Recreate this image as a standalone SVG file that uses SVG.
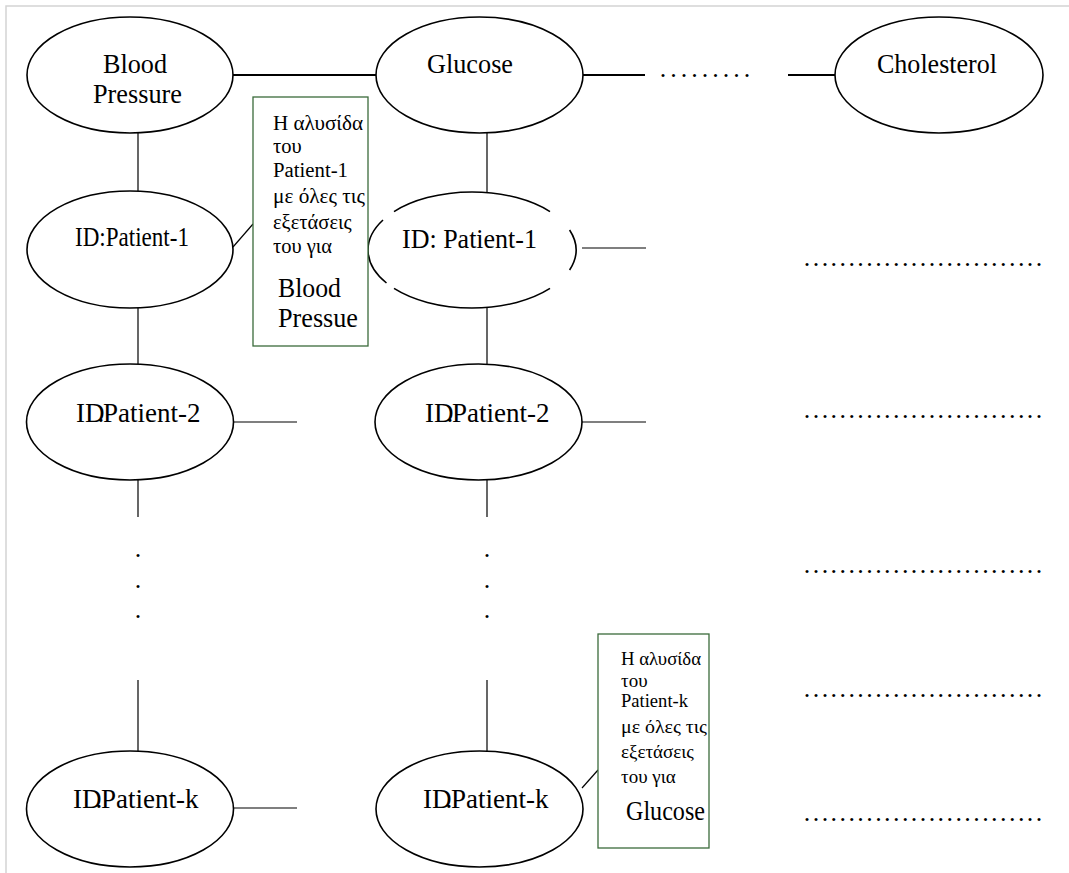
<svg xmlns="http://www.w3.org/2000/svg" width="1069" height="873" viewBox="0 0 1069 873">
  <style>
    .node { fill: #ffffff; stroke: #000000; stroke-width: 1.6; }
    .arc { fill: none; stroke: #000000; stroke-width: 1.6; }
    .link { stroke: #000000; stroke-width: 1.2; fill: none; }
    .hlink { stroke: #000000; stroke-width: 1.8; fill: none; }
    .note { fill: #ffffff; stroke: #3b6b3b; stroke-width: 1.3; }
    .lbl { font-family: "Liberation Serif", "Times New Roman", serif; font-size: 27px; fill: #000000; }
    .small { font-family: "Liberation Serif", "Times New Roman", serif; font-size: 20.5px; fill: #000000; }
    .small2 { font-family: "Liberation Serif", "Times New Roman", serif; font-size: 19px; fill: #000000; }
    .dots { font-family: "Liberation Serif", "Times New Roman", serif; font-size: 26px; fill: #000000; }
  </style>

  <!-- page frame -->
  <path d="M6,873 V6 H1069" fill="none" stroke="#d4d4d4" stroke-width="1.5"/>

  <!-- connectors -->
  <g id="connectors">
    <line class="hlink" x1="233" y1="75" x2="376" y2="75"/>
    <line class="hlink" x1="583" y1="75" x2="645" y2="75"/>
    <line class="hlink" x1="788" y1="75" x2="835" y2="75"/>
    <!-- column 1 verticals -->
    <line class="link" x1="138" y1="133" x2="138" y2="191"/>
    <line class="link" x1="138" y1="308" x2="138" y2="364"/>
    <line class="link" x1="138" y1="480" x2="138" y2="517"/>
    <line class="link" x1="138" y1="680" x2="138" y2="751"/>
    <!-- column 2 verticals -->
    <line class="link" x1="487" y1="133" x2="487" y2="192"/>
    <line class="link" x1="487" y1="308" x2="487" y2="364"/>
    <line class="link" x1="487" y1="480" x2="487" y2="517"/>
    <line class="link" x1="487" y1="680" x2="487" y2="751"/>
    <!-- stubs to the right -->
    <line class="link" x1="582" y1="248" x2="646" y2="248"/>
    <line class="link" x1="233" y1="422" x2="297" y2="422"/>
    <line class="link" x1="582" y1="422" x2="646" y2="422"/>
    <line class="link" x1="233" y1="808" x2="297" y2="808"/>
    <!-- note leaders -->
    <line class="link" x1="233" y1="247" x2="253" y2="224"/>
    <line class="link" x1="582" y1="788" x2="598" y2="770"/>
  </g>

  <!-- continuation dots -->
  <g id="ellipsis">
    <text class="dots" x="659.8" y="77" letter-spacing="4">.........</text>
    <text class="dots" x="803.8" y="266" letter-spacing="2.42">...........................</text>
    <text class="dots" x="803.8" y="418" letter-spacing="2.42">...........................</text>
    <text class="dots" x="803.8" y="573" letter-spacing="2.42">...........................</text>
    <text class="dots" x="803.8" y="697" letter-spacing="2.42">...........................</text>
    <text class="dots" x="803.8" y="821" letter-spacing="2.42">...........................</text>
    <text class="dots" x="138" y="557" text-anchor="middle">.</text>
    <text class="dots" x="138" y="588" text-anchor="middle">.</text>
    <text class="dots" x="138" y="618" text-anchor="middle">.</text>
    <text class="dots" x="487" y="557" text-anchor="middle">.</text>
    <text class="dots" x="487" y="588" text-anchor="middle">.</text>
    <text class="dots" x="487" y="618" text-anchor="middle">.</text>
  </g>

  <g id="blood-pressure">
    <ellipse class="node" cx="130" cy="75" rx="103" ry="58"/>
    <text class="lbl" x="103" y="73" textLength="64" lengthAdjust="spacingAndGlyphs">Blood</text>
    <text class="lbl" x="93" y="103" textLength="89" lengthAdjust="spacingAndGlyphs">Pressure</text>
  </g>

  <g id="glucose">
    <ellipse class="node" cx="479.5" cy="75" rx="103.5" ry="58"/>
    <text class="lbl" x="427" y="73" textLength="86" lengthAdjust="spacingAndGlyphs">Glucose</text>
  </g>

  <g id="cholesterol">
    <ellipse class="node" cx="939" cy="75" rx="104" ry="58"/>
    <text class="lbl" x="877" y="73" textLength="120" lengthAdjust="spacingAndGlyphs">Cholesterol</text>
  </g>

  <g id="bp-patient-1">
    <ellipse class="node" cx="130" cy="249.5" rx="103" ry="58.5"/>
    <text class="lbl" x="75" y="246" font-size="25" textLength="114" lengthAdjust="spacingAndGlyphs">ID:Patient-1</text>
  </g>

  <g id="gl-patient-1">
    <path class="arc" d="M394,211.6 A104,58 0 0 1 550,211.6"/>
    <path class="arc" d="M383,220 A104,58 0 0 0 386.5,283"/>
    <path class="arc" d="M394,288.4 A104,58 0 0 0 550,288.4"/>
    <path class="arc" d="M569.6,230 A104,58 0 0 1 569.6,270"/>
    <text class="lbl" x="402" y="248" textLength="135" lengthAdjust="spacingAndGlyphs">ID: Patient-1</text>
  </g>

  <g id="bp-patient-2">
    <ellipse class="node" cx="130" cy="422" rx="103.5" ry="58"/>
    <text class="lbl" y="422" font-size="24.5"><tspan x="76">ID</tspan><tspan x="97.5">.</tspan><tspan x="103">Patient-2</tspan></text>
  </g>

  <g id="gl-patient-2">
    <ellipse class="node" cx="478.5" cy="422" rx="103.5" ry="58"/>
    <text class="lbl" y="422" font-size="24.5"><tspan x="425">ID</tspan><tspan x="446.5">.</tspan><tspan x="452">Patient-2</tspan></text>
  </g>

  <g id="bp-patient-k">
    <ellipse class="node" cx="130" cy="809" rx="103.5" ry="58"/>
    <text class="lbl" y="808" font-size="25.5"><tspan x="73">ID</tspan><tspan x="95.5">.</tspan><tspan x="101">Patient-k</tspan></text>
  </g>

  <g id="gl-patient-k">
    <ellipse class="node" cx="479.5" cy="809" rx="103.5" ry="58"/>
    <text class="lbl" y="808" font-size="25.5"><tspan x="423">ID</tspan><tspan x="445.5">.</tspan><tspan x="451">Patient-k</tspan></text>
  </g>

  <g id="note-blood-pressure">
    <rect class="note" x="253" y="97" width="115" height="249"/>
    <text class="small" x="273" y="130" textLength="90" lengthAdjust="spacingAndGlyphs">Η αλυσίδα</text>
    <text class="small" x="273" y="153">του</text>
    <text class="small" x="273" y="177" textLength="75" lengthAdjust="spacingAndGlyphs">Patient-1</text>
    <text class="small" x="273" y="203" textLength="92" lengthAdjust="spacingAndGlyphs">με όλες τις</text>
    <text class="small" x="273" y="229">εξετάσεις</text>
    <text class="small" x="273" y="253">του για</text>
    <text class="lbl" x="278" y="297" textLength="63" lengthAdjust="spacingAndGlyphs">Blood</text>
    <text class="lbl" x="278" y="327" textLength="80" lengthAdjust="spacingAndGlyphs">Pressue</text>
  </g>

  <g id="note-glucose">
    <rect class="note" x="598" y="634" width="111" height="214"/>
    <text class="small2" x="621" y="665" textLength="80" lengthAdjust="spacingAndGlyphs">Η αλυσίδα</text>
    <text class="small2" x="621" y="687">του</text>
    <text class="small2" x="621" y="707" textLength="67" lengthAdjust="spacingAndGlyphs">Patient-k</text>
    <text class="small2" x="621" y="733" textLength="86" lengthAdjust="spacingAndGlyphs">με όλες τις</text>
    <text class="small2" x="621" y="758">εξετάσεις</text>
    <text class="small2" x="621" y="783">του για</text>
    <text class="lbl" x="626" y="820" font-size="25" textLength="79" lengthAdjust="spacingAndGlyphs">Glucose</text>
  </g>
</svg>
